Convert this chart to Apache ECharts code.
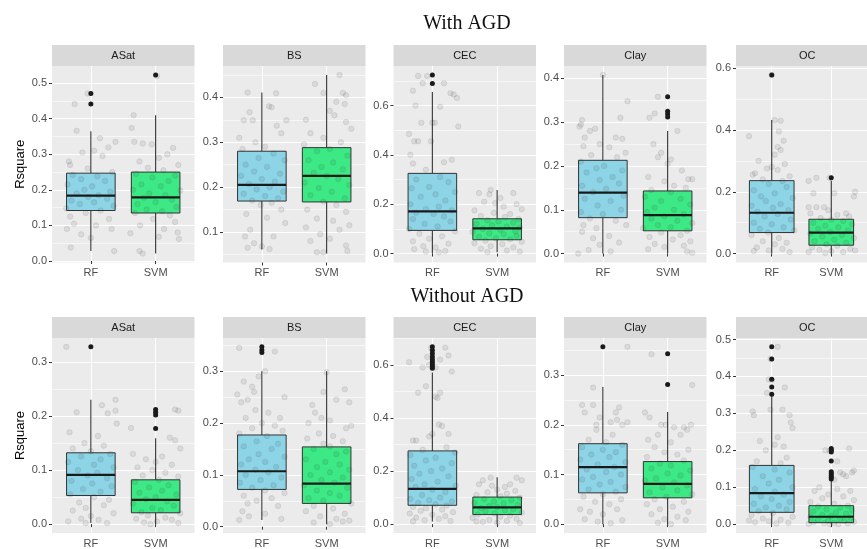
<!DOCTYPE html>
<html>
<head>
<meta charset="utf-8">
<script src="https://cdn.jsdelivr.net/npm/echarts@6/dist/echarts.min.js"></script>
<style>html,body{margin:0;padding:0;background:#fff;}#chart{width:867px;height:549px;}</style>
</head>
<body>
<div id="chart"></div>
<script>
// ---------------- DATA ----------------
const panelNames = ['ASat', 'BS', 'CEC', 'Clay', 'OC'];
const rowTitles = ['With AGD', 'Without AGD'];
const models = ['RF', 'SVM'];

// box stats: [lower whisker, Q1, median, Q3, upper whisker]
const withRFBox = [[0.028,0.142,0.184,0.247,0.365],[0.061,0.169,0.205,0.280,0.411],[0.0,0.094,0.171,0.325,0.655],[0.0,0.082,0.139,0.213,0.408],[0.0,0.068,0.132,0.236,0.432]];
const withSVMBox = [[0.021,0.135,0.179,0.250,0.410],[0.052,0.167,0.225,0.288,0.450],[0.005,0.056,0.102,0.141,0.258],[0.0,0.052,0.088,0.143,0.280],[0.0,0.027,0.068,0.111,0.236]];
const woRFBox = [[0.002,0.053,0.091,0.132,0.230],[0.013,0.072,0.107,0.177,0.300],[0.010,0.071,0.133,0.276,0.571],[0.0,0.063,0.115,0.162,0.276],[0.0,0.032,0.084,0.159,0.347]];
const woSVMBox = [[0.0,0.021,0.045,0.082,0.159],[0.005,0.045,0.083,0.154,0.300],[0.0,0.036,0.063,0.102,0.177],[0.0,0.053,0.081,0.126,0.226],[0.0,0.004,0.020,0.050,0.118]];

// outliers
const withRFOut = [[0.471,0.441],[],[0.724,0.689],[],[0.578]];
const withSVMOut = [[0.523],[],[],[0.358,0.325,0.319,0.312],[0.245]];
const woRFOut = [[0.328],[0.347,0.341,0.336],[0.668,0.655,0.643,0.631,0.62,0.612,0.603,0.595,0.587],[0.357],[0.48,0.447,0.392,0.371,0.352]];
const woSVMOut = [[0.212,0.207,0.202,0.177],[],[],[0.343,0.281],[0.205,0.2,0.195,0.171,0.142,0.137,0.132,0.127,0.122]];

// jittered observations [x (category + jitter), Rsquare]
const withRFPts = [
 [[0.95,0.471],[0.75,0.441],[0.78,0.366],[1.14,0.345],[1.38,0.335],[1.27,0.319],[0.87,0.305],[1.05,0.31],[0.66,0.28],[0.68,0.27],[1.18,0.295],[0.95,0.26],[1.33,0.25],[0.72,0.242],[1.1,0.238],[0.85,0.23],[1.22,0.225],[0.64,0.215],[1.02,0.21],[0.9,0.2],[1.3,0.195],[0.78,0.19],[1.12,0.185],[0.96,0.18],[1.25,0.175],[0.7,0.17],[1.05,0.165],[0.83,0.16],[1.35,0.155],[0.62,0.148],[1.15,0.142],[0.92,0.135],[0.68,0.125],[1.28,0.118],[0.74,0.105],[1.08,0.1],[0.63,0.09],[1.32,0.09],[0.85,0.075],[1.0,0.065],[0.69,0.038],[1.36,0.028]],
 [[0.78,0.411],[0.81,0.367],[0.72,0.349],[0.86,0.349],[1.22,0.409],[1.11,0.38],[1.15,0.378],[1.38,0.349],[1.23,0.337],[1.3,0.32],[0.65,0.31],[0.9,0.3],[1.05,0.29],[0.7,0.285],[1.18,0.275],[0.95,0.265],[1.35,0.26],[0.75,0.25],[1.08,0.245],[0.88,0.235],[1.28,0.23],[0.68,0.225],[1.0,0.218],[1.2,0.212],[0.8,0.207],[1.12,0.2],[0.92,0.195],[1.33,0.19],[0.72,0.185],[1.05,0.18],[1.25,0.175],[0.85,0.17],[1.15,0.165],[0.98,0.16],[1.3,0.15],[0.76,0.14],[1.08,0.132],[1.36,0.12],[0.82,0.105],[0.74,0.09],[1.18,0.09],[0.88,0.075],[0.78,0.065],[1.0,0.068],[1.12,0.062]],
 [[0.78,0.72],[0.92,0.72],[0.85,0.69],[1.18,0.69],[0.7,0.66],[1.28,0.65],[1.33,0.645],[1.38,0.63],[0.74,0.6],[1.12,0.595],[0.83,0.53],[1.0,0.53],[1.04,0.53],[1.4,0.515],[0.64,0.485],[0.72,0.455],[0.78,0.455],[0.98,0.455],[0.66,0.4],[0.7,0.365],[1.18,0.37],[1.3,0.38],[0.9,0.34],[1.12,0.31],[0.75,0.3],[1.25,0.29],[0.95,0.27],[0.68,0.265],[1.35,0.25],[1.05,0.24],[0.82,0.23],[1.2,0.215],[0.66,0.2],[1.1,0.19],[0.9,0.18],[1.3,0.175],[0.75,0.165],[1.02,0.16],[1.18,0.15],[0.7,0.14],[1.28,0.13],[0.88,0.12],[1.08,0.11],[0.64,0.1],[1.35,0.09],[0.8,0.08],[1.15,0.07],[0.95,0.06],[0.7,0.05],[1.25,0.04],[0.86,0.03],[1.05,0.025],[0.72,0.018],[1.2,0.01],[0.9,0.008],[1.1,0.005]],
 [[1.0,0.408],[1.38,0.348],[0.68,0.305],[0.66,0.295],[0.64,0.29],[1.27,0.31],[0.8,0.28],[0.88,0.285],[1.2,0.265],[0.72,0.265],[1.3,0.262],[0.95,0.25],[0.7,0.245],[1.1,0.243],[1.35,0.23],[0.82,0.225],[1.22,0.22],[0.66,0.21],[1.02,0.2],[0.9,0.195],[1.3,0.19],[0.75,0.185],[1.15,0.175],[0.95,0.168],[1.25,0.16],[0.68,0.155],[1.05,0.148],[0.85,0.14],[1.32,0.132],[0.72,0.125],[1.12,0.12],[0.92,0.11],[1.28,0.1],[0.66,0.095],[1.0,0.09],[0.8,0.08],[1.2,0.075],[0.7,0.065],[1.36,0.065],[0.9,0.058],[0.68,0.05],[1.1,0.04],[0.85,0.035],[1.25,0.025],[0.95,0.02],[0.78,0.008],[1.12,0.005],[0.62,0.0]],
 [[1.0,0.578],[1.05,0.432],[1.15,0.43],[1.12,0.395],[0.62,0.38],[1.2,0.365],[1.1,0.345],[1.15,0.335],[1.05,0.32],[0.78,0.3],[1.22,0.29],[0.92,0.275],[1.1,0.27],[0.68,0.255],[0.72,0.26],[1.0,0.28],[1.3,0.25],[0.85,0.24],[1.18,0.235],[0.95,0.225],[1.25,0.215],[0.7,0.205],[1.05,0.195],[0.82,0.185],[1.35,0.18],[0.9,0.17],[1.15,0.16],[0.66,0.155],[1.02,0.148],[1.28,0.14],[0.76,0.135],[1.1,0.128],[0.88,0.12],[1.32,0.11],[0.7,0.1],[1.0,0.095],[1.2,0.085],[0.8,0.08],[1.38,0.075],[0.94,0.068],[0.66,0.06],[1.12,0.05],[0.85,0.04],[1.25,0.035],[1.05,0.03],[0.75,0.02],[1.18,0.015],[0.7,0.008],[1.3,0.005],[0.95,0.01]]
];
const withSVMPts = [
 [[2.02,0.52],[1.66,0.41],[1.63,0.374],[1.67,0.335],[1.8,0.33],[1.94,0.328],[2.27,0.318],[2.18,0.3],[2.05,0.29],[1.75,0.28],[2.35,0.27],[1.88,0.262],[2.12,0.255],[1.7,0.245],[2.3,0.24],[1.95,0.235],[2.2,0.225],[1.78,0.215],[2.08,0.21],[1.65,0.2],[2.38,0.198],[1.9,0.19],[2.15,0.185],[1.82,0.178],[2.25,0.172],[2.0,0.165],[1.72,0.16],[2.32,0.152],[1.86,0.145],[2.1,0.14],[1.68,0.135],[2.22,0.128],[1.96,0.118],[2.3,0.11],[1.76,0.1],[2.13,0.09],[2.34,0.08],[1.61,0.078],[2.05,0.068],[2.36,0.062],[1.75,0.028],[1.8,0.021]],
 [[2.2,0.45],[1.82,0.43],[2.25,0.41],[1.95,0.41],[2.3,0.405],[2.15,0.39],[2.28,0.385],[2.05,0.37],[1.68,0.35],[2.12,0.36],[2.3,0.345],[2.38,0.33],[1.75,0.32],[1.95,0.31],[2.22,0.3],[1.65,0.295],[2.05,0.285],[1.85,0.28],[2.32,0.27],[1.72,0.26],[2.1,0.255],[1.92,0.245],[2.25,0.24],[1.8,0.232],[2.0,0.225],[2.18,0.218],[1.66,0.21],[2.35,0.205],[1.88,0.198],[2.08,0.19],[1.75,0.182],[2.28,0.175],[1.95,0.168],[2.15,0.16],[1.7,0.15],[2.3,0.145],[1.85,0.13],[2.1,0.125],[2.35,0.115],[1.68,0.11],[2.2,0.105],[1.9,0.095],[2.05,0.085],[1.75,0.08],[2.3,0.07],[1.85,0.055],[1.95,0.055],[2.32,0.058]],
 [[1.9,0.258],[1.88,0.24],[1.72,0.245],[2.25,0.245],[2.05,0.225],[1.8,0.21],[1.97,0.205],[2.1,0.19],[2.3,0.2],[2.38,0.18],[1.65,0.175],[1.95,0.165],[2.2,0.16],[1.75,0.152],[2.12,0.148],[2.33,0.14],[1.85,0.135],[2.02,0.13],[2.25,0.125],[1.68,0.12],[1.92,0.115],[2.15,0.11],[2.35,0.105],[1.78,0.1],[2.05,0.097],[2.28,0.09],[1.62,0.088],[1.88,0.082],[2.1,0.078],[2.3,0.072],[1.72,0.068],[1.98,0.062],[2.2,0.058],[1.82,0.052],[2.38,0.048],[1.65,0.042],[2.08,0.038],[1.9,0.03],[2.25,0.025],[1.75,0.02],[2.15,0.012],[2.35,0.008],[1.85,0.006]],
 [[1.85,0.358],[1.8,0.32],[1.72,0.31],[2.15,0.28],[1.78,0.25],[1.9,0.23],[1.85,0.22],[2.05,0.215],[2.0,0.205],[2.22,0.19],[2.32,0.17],[2.38,0.17],[1.7,0.175],[1.95,0.165],[2.1,0.155],[2.28,0.15],[1.75,0.145],[2.05,0.14],[1.65,0.13],[2.2,0.125],[1.9,0.12],[2.35,0.112],[1.8,0.105],[2.1,0.1],[1.68,0.095],[2.25,0.09],[1.95,0.085],[1.75,0.08],[2.15,0.075],[2.38,0.07],[1.85,0.065],[2.05,0.06],[1.62,0.058],[2.3,0.052],[1.9,0.048],[2.2,0.042],[1.72,0.038],[2.08,0.032],[2.35,0.028],[1.8,0.022],[2.25,0.018],[1.95,0.015],[2.3,0.005],[2.38,0.002],[1.7,0.01]],
 [[1.97,0.245],[1.75,0.245],[1.62,0.235],[1.7,0.195],[2.05,0.195],[2.4,0.2],[2.38,0.185],[1.62,0.15],[1.75,0.15],[1.88,0.15],[1.95,0.14],[2.25,0.13],[1.65,0.13],[2.1,0.125],[2.3,0.12],[1.82,0.115],[2.0,0.11],[2.2,0.105],[1.7,0.1],[2.35,0.095],[1.9,0.09],[2.12,0.085],[1.78,0.08],[2.28,0.075],[1.98,0.07],[1.65,0.065],[2.18,0.06],[1.85,0.055],[2.38,0.05],[2.05,0.045],[1.72,0.04],[2.25,0.035],[1.92,0.03],[2.1,0.025],[1.68,0.02],[2.32,0.015],[1.8,0.012],[2.0,0.008],[2.2,0.005],[1.62,0.005],[2.4,0.01],[1.9,0.002]]
];
const woRFPts = [
 [[0.62,0.328],[0.78,0.207],[1.38,0.23],[1.38,0.21],[1.17,0.22],[1.26,0.205],[1.4,0.186],[0.67,0.17],[1.11,0.163],[0.9,0.15],[1.2,0.145],[0.72,0.14],[1.0,0.135],[1.3,0.13],[0.85,0.125],[1.15,0.12],[0.65,0.115],[1.05,0.11],[1.35,0.105],[0.8,0.1],[1.1,0.095],[0.95,0.09],[1.25,0.085],[0.7,0.08],[1.02,0.075],[1.32,0.07],[0.88,0.065],[1.15,0.06],[0.68,0.055],[1.05,0.05],[1.28,0.045],[0.82,0.04],[1.2,0.035],[0.92,0.03],[0.72,0.025],[1.35,0.02],[1.0,0.015],[0.85,0.01],[1.12,0.008],[0.65,0.005],[1.25,0.002],[0.92,0.002]],
 [[0.65,0.345],[1.2,0.338],[1.05,0.3],[0.95,0.29],[0.72,0.28],[0.85,0.27],[0.88,0.26],[0.62,0.255],[0.78,0.245],[1.35,0.25],[0.68,0.24],[0.9,0.225],[1.1,0.22],[1.28,0.21],[0.75,0.21],[1.0,0.2],[1.2,0.195],[0.85,0.19],[1.32,0.185],[0.65,0.18],[1.08,0.175],[0.92,0.165],[1.25,0.16],[0.72,0.155],[1.15,0.15],[0.95,0.14],[1.35,0.135],[0.8,0.13],[1.05,0.125],[0.68,0.12],[1.22,0.115],[0.9,0.11],[1.1,0.105],[0.75,0.1],[1.3,0.095],[0.98,0.09],[0.66,0.085],[1.18,0.08],[0.85,0.075],[1.05,0.07],[1.35,0.065],[0.72,0.06],[1.15,0.055],[0.92,0.05],[0.78,0.045],[1.25,0.04],[0.7,0.03],[1.05,0.025],[0.8,0.02],[0.65,0.013],[1.3,0.015]],
 [[0.98,0.665],[1.2,0.665],[1.25,0.635],[0.64,0.61],[0.92,0.63],[1.12,0.62],[0.95,0.6],[0.85,0.59],[1.05,0.59],[1.3,0.575],[0.9,0.52],[0.78,0.495],[1.12,0.495],[1.05,0.48],[1.08,0.475],[1.1,0.375],[1.15,0.37],[1.0,0.34],[1.25,0.34],[0.95,0.33],[0.7,0.315],[0.75,0.315],[1.22,0.29],[0.85,0.28],[1.35,0.27],[0.66,0.26],[1.05,0.25],[0.9,0.24],[1.3,0.23],[0.72,0.22],[1.15,0.21],[0.98,0.2],[0.8,0.19],[1.25,0.18],[0.68,0.17],[1.08,0.16],[0.88,0.15],[1.36,0.145],[0.74,0.14],[1.0,0.13],[1.2,0.12],[0.84,0.11],[1.12,0.1],[0.66,0.095],[0.95,0.09],[1.3,0.085],[0.78,0.08],[1.05,0.075],[1.22,0.07],[0.7,0.065],[0.9,0.06],[1.15,0.055],[0.82,0.05],[1.32,0.045],[0.65,0.04],[1.0,0.035],[1.2,0.03],[0.75,0.025],[1.1,0.02],[0.88,0.015],[1.28,0.012],[0.7,0.01]],
 [[1.38,0.357],[0.85,0.275],[0.68,0.24],[0.85,0.24],[0.72,0.225],[1.25,0.235],[1.2,0.225],[0.95,0.215],[1.22,0.21],[1.12,0.205],[1.3,0.2],[0.9,0.2],[0.9,0.19],[1.38,0.205],[1.15,0.18],[0.78,0.17],[1.05,0.165],[1.3,0.16],[0.68,0.155],[1.0,0.15],[1.2,0.145],[0.82,0.14],[1.1,0.135],[0.65,0.13],[1.35,0.125],[0.92,0.12],[1.18,0.115],[0.75,0.11],[1.05,0.105],[1.28,0.1],[0.85,0.095],[0.68,0.09],[1.12,0.085],[0.95,0.08],[1.35,0.075],[0.78,0.07],[1.2,0.065],[1.0,0.06],[0.7,0.055],[1.28,0.05],[0.88,0.045],[1.1,0.04],[0.65,0.03],[1.22,0.03],[0.8,0.025],[1.0,0.02],[0.72,0.01],[1.3,0.008],[0.92,0.005],[1.12,0.002]],
 [[1.1,0.48],[0.98,0.447],[0.95,0.392],[1.0,0.39],[1.22,0.37],[0.92,0.355],[0.68,0.305],[0.7,0.295],[0.98,0.31],[1.18,0.31],[1.3,0.295],[1.32,0.275],[1.35,0.26],[1.1,0.235],[0.8,0.225],[1.05,0.215],[0.9,0.2],[1.2,0.21],[1.25,0.18],[0.75,0.17],[1.15,0.165],[0.68,0.155],[1.05,0.148],[1.3,0.14],[0.85,0.13],[1.12,0.12],[0.95,0.11],[1.35,0.1],[0.72,0.095],[1.05,0.088],[1.2,0.08],[0.82,0.075],[1.0,0.068],[1.3,0.06],[0.7,0.055],[1.12,0.05],[0.9,0.045],[1.25,0.04],[0.78,0.035],[1.02,0.03],[0.66,0.025],[1.35,0.02],[0.85,0.015],[1.15,0.012],[0.95,0.008],[0.72,0.005],[1.28,0.004],[0.62,0.01],[1.08,0.002]]
];
const woSVMPts = [
 [[2.3,0.212],[2.35,0.21],[1.62,0.178],[2.22,0.16],[2.3,0.155],[2.38,0.14],[1.65,0.13],[2.1,0.125],[1.85,0.12],[2.0,0.115],[2.25,0.11],[1.72,0.105],[1.95,0.1],[2.15,0.095],[1.8,0.09],[2.35,0.088],[2.05,0.082],[1.68,0.078],[2.2,0.072],[1.9,0.068],[2.1,0.062],[1.75,0.058],[2.32,0.055],[2.0,0.05],[1.85,0.046],[2.18,0.042],[1.65,0.038],[2.28,0.034],[1.95,0.03],[2.08,0.026],[1.78,0.022],[2.38,0.02],[1.88,0.016],[2.15,0.012],[1.7,0.01],[2.25,0.008],[2.02,0.005],[1.82,0.003],[2.35,0.002],[1.92,0.0]],
 [[2.0,0.298],[2.28,0.265],[1.95,0.26],[2.15,0.245],[1.78,0.235],[2.35,0.24],[1.82,0.22],[1.92,0.21],[2.05,0.205],[1.72,0.2],[2.3,0.19],[2.38,0.195],[1.88,0.18],[2.1,0.175],[1.7,0.17],[2.25,0.165],[1.95,0.16],[2.05,0.155],[1.8,0.15],[2.3,0.145],[2.15,0.14],[1.68,0.13],[1.98,0.125],[2.2,0.12],[1.85,0.115],[2.35,0.11],[2.05,0.105],[1.75,0.1],[2.25,0.095],[1.92,0.09],[2.12,0.085],[1.65,0.08],[2.32,0.075],[1.85,0.07],[2.05,0.065],[2.2,0.06],[1.72,0.055],[1.95,0.05],[2.38,0.045],[1.8,0.04],[2.1,0.035],[1.68,0.03],[2.28,0.025],[1.9,0.02],[2.15,0.015],[2.35,0.012],[1.8,0.008],[2.05,0.005],[2.25,0.01]],
 [[1.9,0.175],[1.78,0.165],[2.3,0.175],[2.38,0.165],[2.2,0.15],[1.72,0.15],[1.92,0.145],[2.12,0.14],[2.0,0.13],[2.28,0.125],[1.85,0.12],[2.15,0.115],[1.68,0.11],[2.05,0.105],[2.35,0.1],[1.8,0.095],[2.22,0.09],[1.95,0.085],[1.65,0.08],[2.1,0.078],[2.32,0.072],[1.88,0.068],[2.0,0.064],[1.75,0.06],[2.25,0.056],[2.12,0.052],[1.82,0.048],[2.38,0.044],[1.96,0.04],[1.7,0.036],[2.2,0.032],[2.05,0.028],[1.62,0.024],[2.3,0.02],[1.88,0.016],[2.15,0.012],[1.78,0.008],[2.0,0.005],[2.35,0.004],[1.68,0.01]],
 [[1.75,0.342],[2.38,0.28],[1.65,0.225],[1.72,0.215],[1.9,0.2],[1.97,0.2],[2.1,0.195],[2.25,0.195],[2.3,0.19],[2.36,0.2],[1.85,0.18],[2.2,0.18],[1.7,0.17],[2.05,0.165],[1.8,0.155],[2.32,0.15],[1.95,0.145],[2.15,0.14],[1.68,0.135],[2.25,0.128],[1.88,0.122],[2.05,0.118],[1.75,0.112],[2.35,0.108],[2.0,0.102],[2.2,0.098],[1.82,0.092],[1.65,0.088],[2.1,0.084],[2.3,0.078],[1.92,0.074],[2.15,0.068],[1.72,0.064],[2.38,0.06],[1.98,0.055],[1.8,0.05],[2.25,0.045],[1.68,0.04],[2.08,0.035],[1.88,0.03],[2.32,0.025],[1.75,0.02],[2.15,0.015],[1.95,0.01],[2.28,0.008],[1.85,0.003],[2.05,0.0]],
 [[1.9,0.2],[1.97,0.198],[2.3,0.205],[2.1,0.17],[2.15,0.14],[2.2,0.135],[2.25,0.13],[2.35,0.14],[2.38,0.145],[2.05,0.12],[1.8,0.1],[2.1,0.095],[1.72,0.09],[2.32,0.09],[1.95,0.08],[2.2,0.075],[1.85,0.07],[2.38,0.065],[1.65,0.06],[2.05,0.055],[2.28,0.05],[1.78,0.048],[2.15,0.045],[1.92,0.04],[2.35,0.038],[1.7,0.035],[2.08,0.032],[2.25,0.028],[1.85,0.025],[2.0,0.022],[1.65,0.02],[2.32,0.018],[2.15,0.015],[1.78,0.012],[1.95,0.01],[2.22,0.008],[2.38,0.006],[1.7,0.005],[2.05,0.004],[1.88,0.003],[2.28,0.002],[1.62,0.001],[2.12,0.0],[1.98,0.0]]
];

// y tick labels per panel
const withYTicks = [[0,0.1,0.2,0.3,0.4,0.5],[0.1,0.2,0.3,0.4],[0,0.2,0.4,0.6],[0,0.1,0.2,0.3,0.4],[0,0.2,0.4,0.6]];
const woYTicks = [[0,0.1,0.2,0.3],[0,0.1,0.2,0.3],[0,0.2,0.4,0.6],[0,0.1,0.2,0.3],[0,0.1,0.2,0.3,0.4,0.5]];

// ---------------- LAYOUT / STYLE ----------------
const colLefts = [52, 223, 393.5, 564, 736];
const panelW = 142.5;
const rowTops = [66, 338];
const panelH = 196.5;
const stripH = 21;
const titleY = [24, 297];
const titleX = 467;
const boxColors = ['#8CD4E6', '#3DE985'];

const rows = [
  {box: [withRFBox, withSVMBox], out: [withRFOut, withSVMOut], pts: [withRFPts, withSVMPts], ticks: withYTicks},
  {box: [woRFBox, woSVMBox], out: [woRFOut, woSVMOut], pts: [woRFPts, woSVMPts], ticks: woYTicks}
];

const grids = [], xAxes = [], yAxes = [], series = [], graphics = [];

rows.forEach(function (row, r) {
  graphics.push({
    type: 'text', x: titleX, y: titleY[r], z: 50,
    style: {text: rowTitles[r], textAlign: 'center', textVerticalAlign: 'middle',
            font: '20px "Liberation Serif", "DejaVu Serif", serif', fill: '#111'}
  });
  panelNames.forEach(function (name, p) {
    const i = r * 5 + p;
    const left = colLefts[p], top = rowTops[r];
    grids.push({left: left, top: top, width: panelW, height: panelH, show: true,
                backgroundColor: '#EBEBEB', borderWidth: 0, containLabel: false});
    graphics.push({type: 'rect', shape: {x: left, y: top - stripH, width: panelW, height: stripH},
                   style: {fill: '#D9D9D9'}, z: 10});
    graphics.push({type: 'text', x: left + panelW / 2, y: top - stripH / 2, z: 11,
                   style: {text: name, textAlign: 'center', textVerticalAlign: 'middle',
                   font: '11px "Liberation Sans", Arial, sans-serif', fill: '#1A1A1A'}});

    // data range (ggplot-like 5% expansion)
    let vals = [];
    for (let m = 0; m < 2; m++) {
      vals = vals.concat(row.box[m][p], row.out[m][p], row.pts[m][p].map(function (d) { return d[1]; }));
    }
    const lo = Math.min.apply(null, vals), hi = Math.max.apply(null, vals);
    const pad = (hi - lo) * 0.05;
    const ymin = lo - pad, ymax = hi + pad;
    const majors = row.ticks[p];
    const step = majors[1] - majors[0];
    const minors = [];
    for (let k = -1; k < 20; k++) {
      const v = +(majors[0] + (k + 0.5) * step).toFixed(4);
      if (v > ymax) break;
      if (v >= ymin) minors.push(v);
    }

    xAxes.push({
      type: 'value', gridIndex: i, min: 0.4, max: 2.6,
      axisLine: {show: false},
      axisTick: {show: true, length: 3, customValues: [1, 2], lineStyle: {color: '#333', width: 1}},
      axisLabel: {customValues: [1, 2], formatter: function (v) { return models[Math.round(v) - 1]; },
                  color: '#4D4D4D', fontSize: 11, fontFamily: '"Liberation Sans", Arial, sans-serif', margin: 5},
      splitLine: {show: true, lineStyle: {color: '#FFFFFF', width: 1.1}}
    });
    yAxes.push({
      type: 'value', gridIndex: i, min: ymin, max: ymax, position: 'left',
      name: p === 0 ? 'Rsquare' : '', nameLocation: 'middle', nameGap: 25, nameRotate: 90,
      nameTextStyle: {color: '#000', fontSize: 13, fontFamily: '"Liberation Sans", Arial, sans-serif'},
      axisLine: {show: false},
      axisTick: {show: true, length: 3, customValues: majors, lineStyle: {color: '#333', width: 1}},
      axisLabel: {customValues: majors, formatter: function (v) { return v.toFixed(1); },
                  color: '#4D4D4D', fontSize: 11, fontFamily: '"Liberation Sans", Arial, sans-serif', margin: 5},
      splitLine: {show: true, lineStyle: {color: '#FFFFFF', width: 1.1}}
    });
    yAxes.push({
      type: 'value', gridIndex: i, min: ymin, max: ymax, position: 'left',
      axisLine: {show: false}, axisLabel: {show: false},
      axisTick: {show: false, customValues: minors},
      splitLine: {show: true, lineStyle: {color: '#FFFFFF', width: 0.55}}
    });

    series.push({
      type: 'custom', xAxisIndex: i, yAxisIndex: 2 * i, z: 2,
      encode: {x: 0, y: [1, 2, 3, 4, 5]},
      data: [[1].concat(row.box[0][p]), [2].concat(row.box[1][p])],
      renderItem: function (params, api) {
        const x = api.value(0);
        const pLo = api.coord([x, api.value(1)]);
        const pQ1 = api.coord([x, api.value(2)]);
        const pMed = api.coord([x, api.value(3)]);
        const pQ3 = api.coord([x, api.value(4)]);
        const pHi = api.coord([x, api.value(5)]);
        const w = api.size([0.75, 0])[0];
        const cx = pQ1[0];
        return {type: 'group', children: [
          {type: 'line', shape: {x1: cx, y1: pHi[1], x2: cx, y2: pQ3[1]}, style: {stroke: '#333', lineWidth: 1.1}},
          {type: 'line', shape: {x1: cx, y1: pQ1[1], x2: cx, y2: pLo[1]}, style: {stroke: '#333', lineWidth: 1.1}},
          {type: 'rect', shape: {x: cx - w / 2, y: pQ3[1], width: w, height: pQ1[1] - pQ3[1]},
           style: {fill: boxColors[params.dataIndex], stroke: '#333', lineWidth: 1}},
          {type: 'line', shape: {x1: cx - w / 2, y1: pMed[1], x2: cx + w / 2, y2: pMed[1]},
           style: {stroke: '#1A1A1A', lineWidth: 2.2}}
        ]};
      }
    });
    const outData = [];
    row.out[0][p].forEach(function (v) { outData.push([1, v]); });
    row.out[1][p].forEach(function (v) { outData.push([2, v]); });
    series.push({
      type: 'scatter', xAxisIndex: i, yAxisIndex: 2 * i, z: 3, silent: true,
      symbolSize: 5, itemStyle: {color: '#1A1A1A', opacity: 1},
      data: outData
    });
    series.push({
      type: 'scatter', xAxisIndex: i, yAxisIndex: 2 * i, z: 4, silent: true,
      symbolSize: 5.5, itemStyle: {color: 'rgba(40,40,40,0.11)', borderColor: 'rgba(40,40,40,0.14)', borderWidth: 0.8},
      data: row.pts[0][p].concat(row.pts[1][p])
    });
  });
});

const chart = echarts.init(document.getElementById('chart'), null, {renderer: 'canvas'});
chart.setOption({
  animation: false,
  backgroundColor: '#FFFFFF',
  grid: grids, xAxis: xAxes, yAxis: yAxes, series: series, graphic: graphics
});
</script>
</body>
</html>
